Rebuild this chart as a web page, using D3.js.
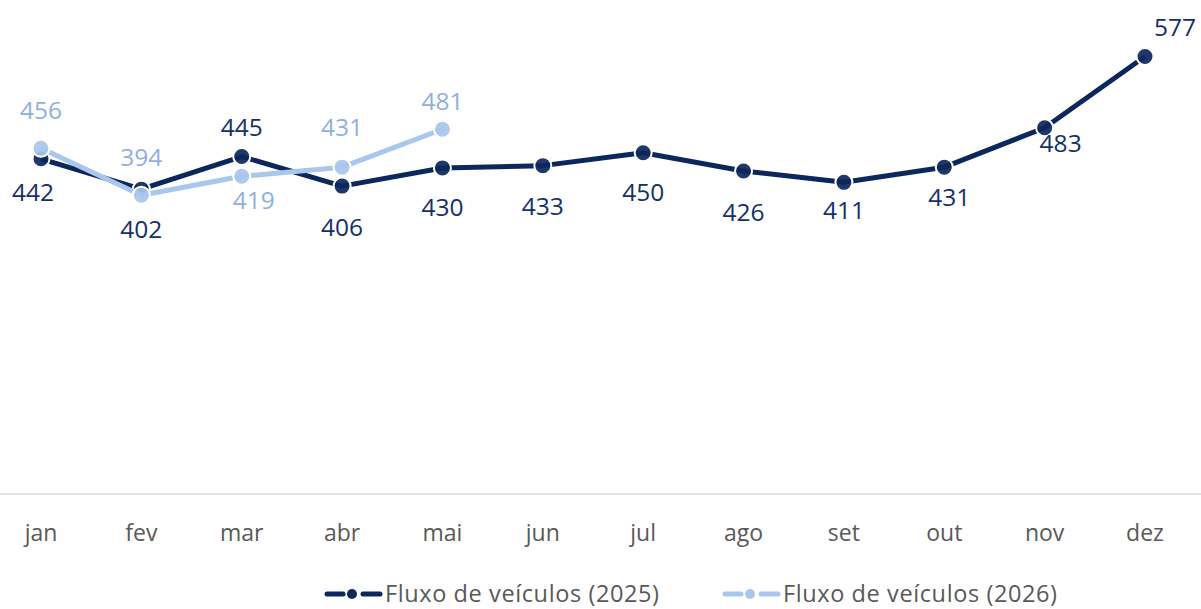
<!DOCTYPE html>
<html lang="pt">
<head>
<meta charset="UTF-8">
<title>Fluxo de veículos</title>
<script src="https://cdn.jsdelivr.net/npm/d3@7"></script>
<style>
    body { margin: 0; background: #fff; }
    svg { display: block; font-family: "Open Sans", sans-serif; }
</style>
</head>
<body>
<div id="chart"></div>
<script>
    // data
    var months = ["jan", "fev", "mar", "abr", "mai", "jun", "jul", "ago", "set", "out", "nov", "dez"]
    var flux2025 = [442, 402, 445, 406, 430, 433, 450, 426, 411, 431, 483, 577]
    var flux2026 = [456, 394, 419, 431, 481]
    var seriesNames = ["Fluxo de veículos (2025)", "Fluxo de veículos (2026)"]

    // label offsets (dx, dy) relative to each marker, as Excel placed them
    var offs2025 = [[-8, 34], [0, 40], [0, -29], [0, 41], [0, 40], [0, 41], [0, 40], [0, 41], [0, 28], [5, 30], [16, 16], [30, -29]]
    var offs2026 = [[0, -38], [0, -38], [12, 24], [0, -40], [0, -28]]

    var width = 1201, height = 609

    var svg = d3.select("#chart").append("svg")
        .attr("width", width)
        .attr("height", height)

    var x = d3.scalePoint().domain(months).range([41, 1145])
    var y = d3.scaleLinear().domain([0, 600]).range([494, 39])

    // baseline
    svg.append("line")
        .attr("x1", 0).attr("x2", width)
        .attr("y1", y(0)).attr("y2", y(0))
        .attr("stroke", "#d9d9d9")
        .attr("stroke-width", 1.5)

    // month labels
    svg.append("g").selectAll("text")
        .data(months)
        .enter().append("text")
        .attr("x", d => x(d))
        .attr("y", 541)
        .attr("text-anchor", "middle")
        .attr("fill", "#595959")
        .style("font-size", "23px")
        .text(d => d)

    var series = [
        { name: seriesNames[0], values: flux2025, offs: offs2025, line: "#0c275c", label: "#13306a" },
        { name: seriesNames[1], values: flux2026, offs: offs2026, line: "#a9c6ec", label: "#8eb0df" }
    ]

    var line = d3.line()
        .x((d, i) => x(months[i]))
        .y(d => y(d))

    series.forEach(s => {
        var g = svg.append("g")
        g.append("path")
            .attr("d", line(s.values))
            .attr("fill", "none")
            .attr("stroke", s.line)
            .attr("stroke-width", 5)
            .attr("stroke-linejoin", "round")

        g.selectAll("circle")
            .data(s.values)
            .enter().append("circle")
            .attr("cx", (d, i) => x(months[i]))
            .attr("cy", d => y(d))
            .attr("r", 8.5)
            .attr("fill", s.line)
            .attr("fill-opacity", 0.92)
            .attr("stroke", "#fff")
            .attr("stroke-width", 2)
    })

    // data labels on top
    series.forEach(s => {
        svg.append("g").selectAll("text")
            .data(s.values)
            .enter().append("text")
            .attr("x", (d, i) => x(months[i]) + s.offs[i][0])
            .attr("y", (d, i) => y(d) + s.offs[i][1])
            .attr("dy", "0.35em")
            .attr("text-anchor", "middle")
            .attr("fill", s.label)
            .style("font-size", "24.5px")
            .text(d => d)
    })

    // legend
    var legendX = [325, 723]
    var legend = svg.append("g").selectAll("g")
        .data(series)
        .enter().append("g")
        .attr("transform", (d, i) => `translate(${legendX[i]},594)`)

    legend.append("line")
        .attr("x1", 2).attr("x2", 18)
        .attr("stroke", d => d.line).attr("stroke-width", 5).attr("stroke-linecap", "round")
    legend.append("line")
        .attr("x1", 38).attr("x2", 55)
        .attr("stroke", d => d.line).attr("stroke-width", 5).attr("stroke-linecap", "round")
    legend.append("circle")
        .attr("cx", 27).attr("r", 5)
        .attr("fill", d => d.line)
    legend.append("text")
        .attr("x", 60)
        .attr("dy", "0.35em")
        .attr("fill", "#595959")
        .style("font-size", "23.5px")
        .style("letter-spacing", "0.6px")
        .text(d => d.name)
</script>
</body>
</html>
